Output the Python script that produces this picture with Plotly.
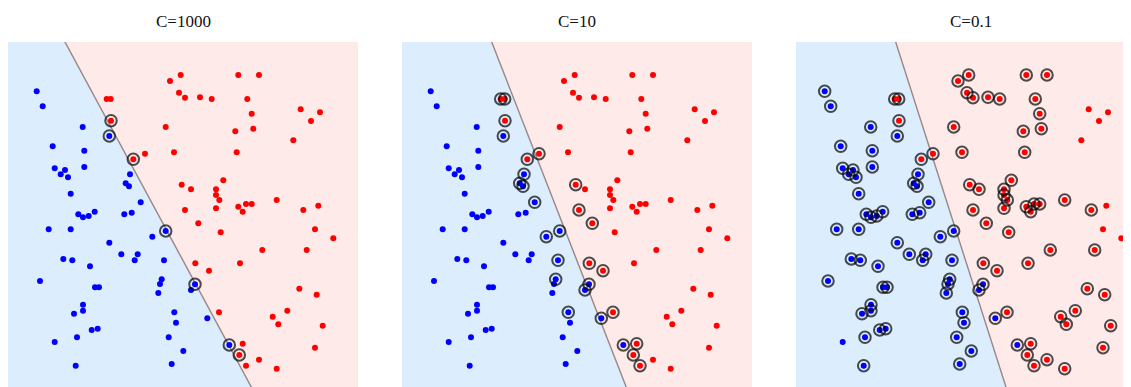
import plotly.graph_objects as go

# ---- data (panel-relative coordinates; y grows downward) ----
red_x = [98.7, 102.7, 103, 125.3, 137, 157.7, 162, 172.7, 171, 177,
         166, 173.7, 230.3, 251, 192, 203.7, 239.3, 243.7, 245.3, 227.3,
         228.7, 292.7, 312, 303, 285.3, 215.3, 183, 208, 208, 211.3,
         230.3, 238, 243.7, 268.7, 295.3, 310.3, 177, 208, 234.7, 190.3,
         212.7, 307, 325.3, 254.3, 298.7, 187.3, 232, 201, 291.3, 308.7,
         211, 279.3, 264.7, 270.3, 314.7, 234.7, 231.3, 307, 251, 238, 268.7]
red_y = [57, 57, 78.7, 117.3, 111.7, 85, 39, 33, 50.7, 55.7,
         110.3, 142.7, 33, 33, 55.3, 57, 57, 71.7, 86.7, 89.3,
         110.3, 67.3, 70.3, 79, 98.3, 138.3, 147.3, 147.3, 153, 158,
         164.7, 162, 162, 158, 168, 163.7, 168, 166.3, 169.7, 181.3,
         190.3, 187.3, 196.3, 208, 208, 221.3, 221.3, 228.7, 246.7, 252.7,
         270.3, 268.7, 274.7, 282.3, 283.7, 301.7, 313, 305.7, 317.7, 323.7, 326.7]

blue_x = [28.7, 34.7, 74.7, 101.3, 44.7, 76.3, 46.7, 57, 52.7, 60,
          76.3, 122, 117.7, 121, 62.7, 132.7, 70.3, 75, 80.7, 86.7,
          116.3, 123.7, 40.7, 62.7, 157.7, 144.3, 101.3, 113.3, 129.7, 126.7,
          156, 55.3, 64.3, 82, 32, 87, 91, 153.7, 152, 150.3,
          187, 183, 75, 75, 66, 166.3, 168, 89.7, 83.7, 69,
          46.7, 160.7, 175.3, 67.7, 163.7, 199.3, 221.3]
blue_y = [49.3, 64.3, 85, 94, 104.3, 108.7, 126.3, 128, 132.3, 135.3,
          125, 132.3, 141.3, 144.3, 151.7, 160.3, 172.3, 175.3, 174, 169.7,
          172.3, 170.7, 187.3, 187.3, 189, 194.7, 200.7, 212.3, 212.3, 218.3,
          218.3, 217, 218.3, 224.3, 239, 245.3, 245.3, 237.3, 242, 251,
          242.3, 248, 262.7, 268.7, 271.7, 270.3, 280.7, 286.7, 288, 295.3,
          300, 295.3, 309, 323.7, 322, 276.3, 303]

titles = ["C=1000", "C=10", "C=0.1"]
# decision boundary: x position at top (y=0) and at bottom (y=345) of each panel
boundary_top = [57, 89.7, 99.7]
boundary_bottom = [243.3, 224.2, 210]

# support vectors (indices) per panel
sv_red_1 = [2, 3, 56]
sv_blue_1 = [3, 24, 40, 56]
sv_red_2 = [0, 1, 2, 3, 4, 11, 36, 39, 45, 47, 50, 55, 56, 59]
sv_blue_2 = [3, 11, 12, 13, 15, 24, 25, 30, 37, 40, 41, 45, 55, 56]
non_sv_red_3 = [21, 22, 23, 24, 35, 41, 42]
non_sv_blue_3 = [50]
sv_red_3 = [i for i in range(len(red_x)) if i not in non_sv_red_3]
sv_blue_3 = [i for i in range(len(blue_x)) if i not in non_sv_blue_3]
sv_red = [sv_red_1, sv_red_2, sv_red_3]
sv_blue = [sv_blue_1, sv_blue_2, sv_blue_3]

# ---- layout geometry (page body adds an 8px offset) ----
OFF = 8
W, H = 1131 - OFF, 387 - OFF
panel_left = [8 - OFF, 402 - OFF, 796 - OFF]
panel_w = 350
panel_top = 42 - OFF
vis_h = H - panel_top  # 345

BLUE_BG = "#dcedfe"
RED_BG = "#ffeaea"
LINE_C = "rgba(140,115,110,0.85)"
RING_C = "rgba(10,10,10,0.72)"

fig = go.Figure()
shapes = []
annotations = []
for p in range(3):
    ax = "" if p == 0 else str(p + 1)
    xr, yr = "x" + ax, "y" + ax
    x0 = panel_left[p]
    x1 = min(x0 + panel_w, W)
    vis_w = x1 - x0
    fig.update_layout(**{
        "xaxis" + ax: dict(domain=[x0 / W, x1 / W], range=[0, vis_w], visible=False,
                           fixedrange=True, anchor=yr),
        "yaxis" + ax: dict(domain=[0, vis_h / H], range=[vis_h, 0], visible=False,
                           fixedrange=True, anchor=xr),
    })
    t, b = boundary_top[p], boundary_bottom[p]
    slope = (b - t) / vis_h
    tt = t - slope * 5
    bb = b + slope * 5
    shapes.append(dict(type="path", xref=xr, yref=yr, layer="below", line=dict(width=0),
                       fillcolor=BLUE_BG,
                       path=f"M -5,-5 L {tt},-5 L {bb},{vis_h+5} L -5,{vis_h+5} Z"))
    shapes.append(dict(type="path", xref=xr, yref=yr, layer="below", line=dict(width=0),
                       fillcolor=RED_BG,
                       path=f"M {tt},-5 L {vis_w+400},-5 L {vis_w+400},{vis_h+5} L {bb},{vis_h+5} Z"))
    shapes.append(dict(type="line", xref=xr, yref=yr, layer="below",
                       x0=tt, y0=-5, x1=bb, y1=vis_h + 5,
                       line=dict(color=LINE_C, width=1.4)))

    fig.add_trace(go.Scatter(x=blue_x, y=blue_y, mode="markers", xaxis=xr, yaxis=yr,
                             marker=dict(size=6, color="#0000ff", line=dict(width=0)),
                             hoverinfo="skip", showlegend=False))
    fig.add_trace(go.Scatter(x=red_x, y=red_y, mode="markers", xaxis=xr, yaxis=yr,
                             marker=dict(size=6, color="#ff0000", line=dict(width=0)),
                             hoverinfo="skip", showlegend=False))
    svx = [red_x[i] for i in sv_red[p]] + [blue_x[i] for i in sv_blue[p]]
    svy = [red_y[i] for i in sv_red[p]] + [blue_y[i] for i in sv_blue[p]]
    fig.add_trace(go.Scatter(x=svx, y=svy, mode="markers", xaxis=xr, yaxis=yr,
                             marker=dict(size=11.5, symbol="circle-open", color=RING_C,
                                         line=dict(width=2, color=RING_C)),
                             hoverinfo="skip", showlegend=False))
    annotations.append(dict(text=titles[p], xref="paper", yref="paper",
                            x=(x0 + panel_w / 2) / W, y=1 - (21.5 - OFF) / H,
                            xanchor="center", yanchor="middle", showarrow=False,
                            font=dict(family="Liberation Serif", size=17, color="#111")))

fig.update_layout(width=W, height=H, margin=dict(l=0, r=0, t=0, b=0),
                  paper_bgcolor="white", plot_bgcolor="white",
                  shapes=shapes, annotations=annotations)
fig.write_html("out.html")
